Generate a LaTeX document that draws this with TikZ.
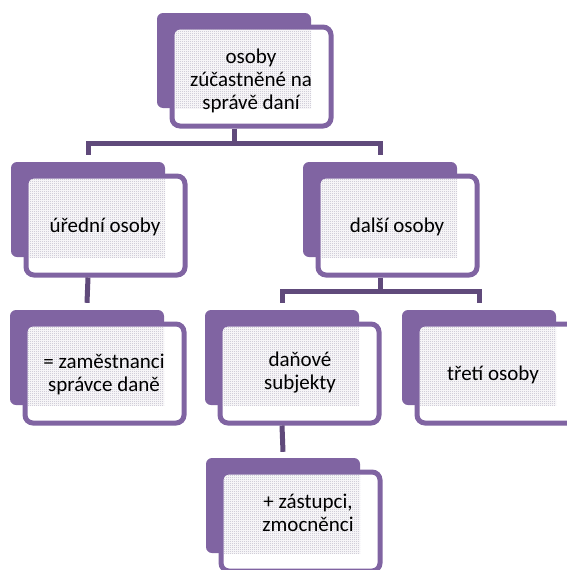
\documentclass[tikz,border=0pt]{standalone}
\usepackage{fontspec}
\setmainfont{Carlito}
\usetikzlibrary{patterns,calc}
\definecolor{smPurple}{RGB}{128,100,162}
\definecolor{smLink}{RGB}{96,74,123}
\definecolor{smDots}{RGB}{185,180,198}

% fine checker texture for the shaded part of each card
\pgfdeclarepatternformonly{finechecker}{\pgfqpoint{0pt}{0pt}}{\pgfqpoint{2pt}{2pt}}{\pgfqpoint{2pt}{2pt}}{%
  \pgfpathrectangle{\pgfqpoint{0pt}{0pt}}{\pgfqpoint{1pt}{1pt}}%
  \pgfpathrectangle{\pgfqpoint{1pt}{1pt}}{\pgfqpoint{1pt}{1pt}}%
  \pgfusepath{fill}}

\tikzset{
  backbox/.style={rectangle, fill=smPurple, rounded corners=6pt,
    minimum width=154pt, minimum height=95pt, inner sep=0pt},
  frontbox/.style={rectangle, draw=smPurple, line width=5pt, fill=white,
    rounded corners=8pt, minimum width=159pt, minimum height=99pt, inner sep=0pt},
  boxtext/.style={align=center, font=\fontsize{21}{23}\selectfont,
    text=black, inner sep=0pt},
  link/.style={draw=smLink, line width=5pt},
}

% one unit: purple back card and white framed card in front of it;
% arguments: name, top-left corner of the back card
\newcommand\taxunit[3]{%
  \node[backbox] (#1b) at (#2+77,#3+47.5) {};
  \node[frontbox] (#1f) at (#2+94.5,#3+63.5) {};
  \begin{scope}
    \clip[rounded corners=5pt] ($(#1f.center)+(-77,-47)$) rectangle ($(#1f.center)+(77,47)$);
    \fill[pattern=finechecker, pattern color=smDots]
      ($(#1f.center)+(-77,-47)$) rectangle (#1b.south east);
  \end{scope}
}

\begin{document}
\begin{tikzpicture}[x=1pt, y=-1pt]
  \useasboundingbox (0,0) rectangle (567,570);
  \clip (0,0) rectangle (567,570);

  % cards
  \taxunit{top}{157}{13}
  \taxunit{ured}{11}{162}
  \taxunit{dals}{303}{162}
  \taxunit{zam}{10}{310}
  \taxunit{dan}{205}{310}
  \taxunit{tret}{402}{310}
  \taxunit{zast}{206}{458}

  % labels
  \node[boxtext] (ttop)  at (251,81)  {osoby\\zúčastněné na\\správě daní};
  \node[boxtext] (tured) at (105,227) {úřední osoby};
  \node[boxtext] (tdals) at (397,227) {další osoby};
  \node[boxtext] (tzam)  at (104,374) {= zaměstnanci\\správce daně};
  \node[boxtext] (tdan)  at (300,373) {daňové\\subjekty};
  \node[boxtext] (ttret) at (493,375) {třetí osoby};
  \node[boxtext] (tzast) at (308,513) {+ zástupci,\\zmocněnci};

  % connectors
  \draw[link] (topb.south |- topf.south) -- ($(topb.south |- uredb.north)+(0,-18)$);
  \draw[link] ($(uredb.north)+(0,-7)$) |- ($(dalsb.north)+(0,-18)$) -- ($(dalsb.north)+(0,-7)$);
  \draw[link] (uredb.south |- uredf.south) -- ($(zamb.north)+(0,-7)$);
  \draw[link] (dalsb.south |- dalsf.south) -- ($(dalsb.south |- danb.north)+(0,-18)$);
  \draw[link] ($(danb.north)+(0,-7)$) |- ($(tretb.north)+(0,-18)$) -- ($(tretb.north)+(0,-7)$);
  \draw[link] (danb.south |- danf.south) -- ($(zastb.north)+(0,-6)$);
\end{tikzpicture}
\end{document}
